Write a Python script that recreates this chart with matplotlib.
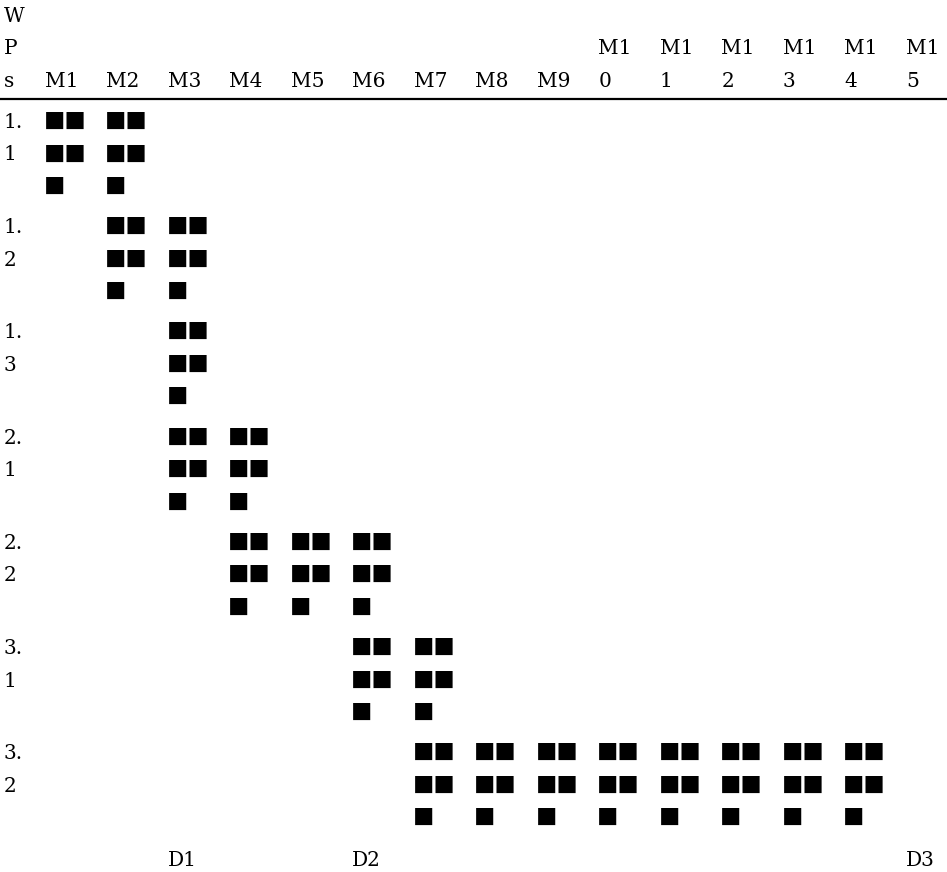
import matplotlib.pyplot as plt

months = ['M%d' % m for m in range(1, 16)]
wps = ['1.1', '1.2', '1.3', '2.1', '2.2', '3.1', '3.2']
wp_start = [1, 2, 3, 3, 4, 6, 7]
wp_end = [2, 3, 3, 4, 6, 7, 14]
deliverables = ['D1', 'D2', 'D3']
deliv_month = [3, 6, 15]
header_label = 'WPs'
cell_mark = '■■■■■'

TXT = dict(fontsize=14.5, family='DejaVu Serif', va='baseline', ha='left')
SQ = dict(fontsize=15.4, family=['Noto Sans CJK JP', 'DejaVu Sans'], va='baseline', ha='left')
LINE = 32.5      # px between wrapped lines
GROUP = 105.2    # px between WP rows
HEAD_BASE = 87   # baseline of last header line
ROW_BASE = 128   # baseline of first line of first WP row
LABEL_X = 0.33


def wrap(s, n):
    return [s[i:i + n] for i in range(0, len(s), n)]


fig = plt.figure(figsize=(9.47, 8.72), dpi=100)
ax = fig.add_axes([0, 0, 1, 1])
ax.axis('off')
ax.set_xlim(0.27, 15.67)
ax.set_ylim(872, 0)

# header, wrapped text aligned to bottom line
for x, lab, n in [(LABEL_X, header_label, 1)] + [(i + 1, m, 2) for i, m in enumerate(months)]:
    parts = wrap(lab, n)
    for k, p in enumerate(parts):
        ax.text(x, HEAD_BASE - LINE * (len(parts) - 1 - k), p, **TXT)

ax.axhline(99.5, color='black', lw=1.6)

for i, wp in enumerate(wps):
    base = ROW_BASE + GROUP * i
    for k, p in enumerate(wrap(wp, 2)):
        ax.text(LABEL_X, base + LINE * k, p, **TXT)
    for m in range(wp_start[i], wp_end[i] + 1):
        for k, p in enumerate(wrap(cell_mark, 2)):
            ax.text(m - 0.02, base + LINE * k + 1, p, **SQ)

d_base = ROW_BASE + GROUP * (len(wps) - 1) + LINE * 2 + 42
for d, m in zip(deliverables, deliv_month):
    ax.text(m, d_base, d, **TXT)

fig.savefig('out.png', dpi=100)
